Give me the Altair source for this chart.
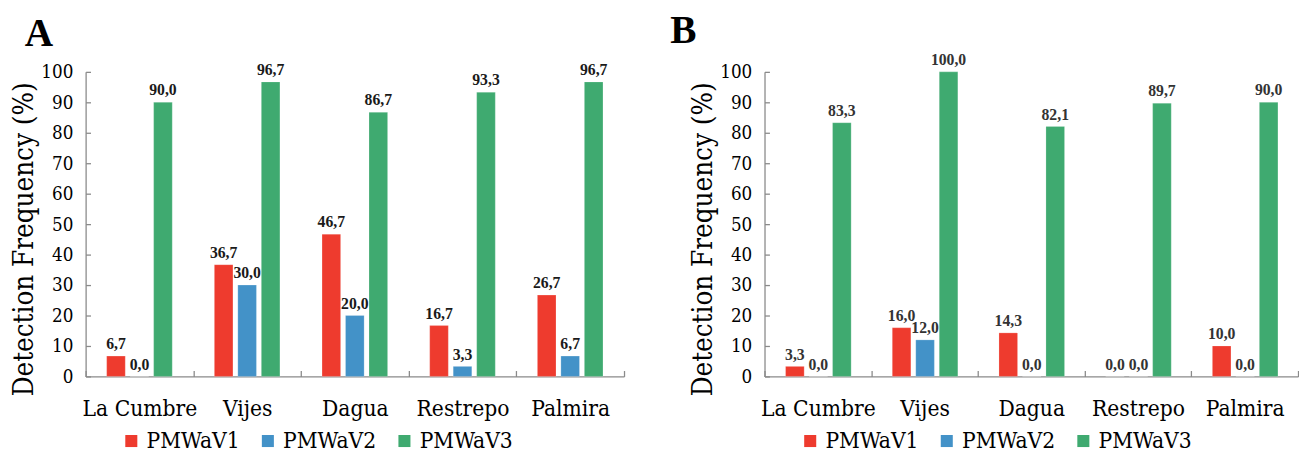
import altair as alt
import pandas as pd

sites = ["La Cumbre", "Vijes", "Dagua", "Restrepo", "Palmira"]
series = ["PMWaV1", "PMWaV2", "PMWaV3"]
colors = ["#EE3B2E", "#4392C8", "#3FAA70"]

a_v1 = [6.7, 36.7, 46.7, 16.7, 26.7]
a_v2 = [0.0, 30.0, 20.0, 3.3, 6.7]
a_v3 = [90.0, 96.7, 86.7, 93.3, 96.7]

b_v1 = [3.3, 16.0, 14.3, 0.0, 10.0]
b_v2 = [0.0, 12.0, 0.0, 0.0, 0.0]
b_v3 = [83.3, 100.0, 82.1, 89.7, 90.0]

y_ticks = list(range(0, 101, 10))
F_REG = "'DejaVu Serif Condensed', 'DejaVu Serif'"
F_BOLD = "Liberation Serif"


def make_df(v1, v2, v3):
    rows = []
    for s, vals in zip(series, [v1, v2, v3]):
        for site, v in zip(sites, vals):
            rows.append({"site": site, "series": s, "value": v})
    return pd.DataFrame(rows)


def panel(df, letter, title_dx, title_offset, label_color, width):
    base = alt.Chart(df).encode(
        x=alt.X(
            "site:N",
            sort=sites,
            scale=alt.Scale(paddingInner=0, paddingOuter=0),
            axis=alt.Axis(
                title=None,
                labelAngle=0,
                tickBand="extent",
                tickSize=alt.ExprRef("-6"),
                labelPadding=28,
                labelFont=F_REG,
                labelFontWeight="normal",
                labelFontSize=23,
                labelColor="#000000",
                domainColor="#8a8a8a",
                tickColor="#8a8a8a",
                domainWidth=1.3,
                tickWidth=1.3,
            ),
        ),
        xOffset=alt.XOffset(
            "series:N",
            sort=series,
            scale=alt.Scale(paddingInner=0.208, paddingOuter=0.896),
        ),
        y=alt.Y(
            "value:Q",
            scale=alt.Scale(domain=[0, 100], nice=False),
            axis=alt.Axis(
                title="Detection Frequency (%)",
                titleFont=F_REG,
                titleFontSize=28,
                titleFontWeight="normal",
                titleColor="#000000",
                titlePadding=2,
                titleY=170,
                values=y_ticks,
                grid=False,
                tickSize=alt.ExprRef("-5"),
                labelPadding=18,
                labelFont=F_REG,
                labelFontWeight="normal",
                labelFontSize=19,
                labelColor="#000000",
                domainColor="#8a8a8a",
                tickColor="#8a8a8a",
                domainWidth=1.3,
                tickWidth=1.3,
            ),
        ),
    )
    bars = base.mark_bar(stroke="#ffffff", strokeOpacity=0.35, strokeWidth=0.6).encode(
        color=alt.Color(
            "series:N",
            sort=series,
            scale=alt.Scale(domain=series, range=colors),
            legend=alt.Legend(
                title=None,
                orient="none",
                legendX=35,
                legendY=364,
                direction="horizontal",
                symbolType="square",
                symbolSize=150,
                symbolStrokeWidth=0,
                labelFont=F_REG,
                labelFontWeight="normal",
                labelFontSize=23,
                labelColor="#000000",
                labelOffset=4,
                columnPadding=17,
            ),
        )
    )
    labels = base.transform_calculate(
        lab="replace(format(datum.value, '.1f'), '.', ',')"
    ).mark_text(
        font=F_BOLD,
        fontSize=16,
        fontWeight="bold",
        color=label_color,
        baseline="alphabetic",
        dy=-7,
    ).encode(text="lab:N")
    return alt.layer(bars, labels).properties(
        width=width,
        height=310,
        title=alt.TitleParams(
            letter,
            anchor="start",
            frame="group",
            dx=title_dx,
            fontSize=40,
            font=F_BOLD,
            fontWeight="bold",
            color="#000000",
            offset=title_offset,
        ),
    )


df_a = make_df(a_v1, a_v2, a_v3)
df_b = make_df(b_v1, b_v2, b_v3)

chart = (
    alt.hconcat(
        panel(df_a, "A", -62, 9, "#1a1a1a", 548),
        panel(df_b, "B", -96, 1, "#333333", 543),
        spacing=46,
    )
    .resolve_scale(color="independent")
    .resolve_legend(color="independent")
    .properties(padding={"left": 3, "top": 0, "right": 0, "bottom": 0})
    .configure_view(stroke=None)
)

chart.save("out.html", embed_options={"renderer": "svg", "actions": False})
